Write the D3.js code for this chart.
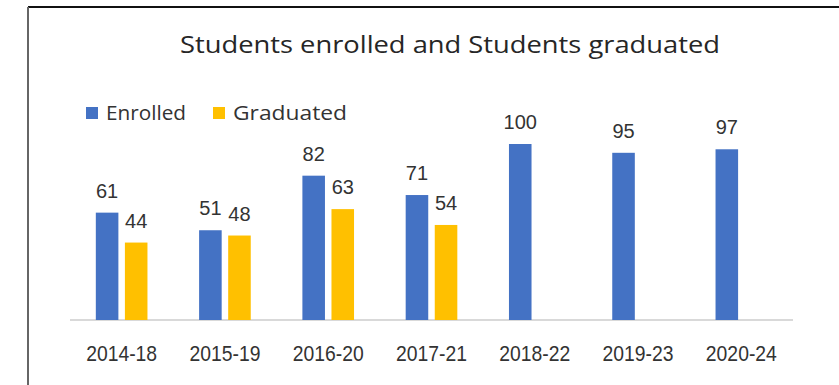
<!DOCTYPE html>
<html>
<head>
<meta charset="utf-8">
<script src="https://cdn.jsdelivr.net/npm/d3@7"></script>
<style>
  body { margin: 0; background: #fff; }
  svg { display: block; }
</style>
</head>
<body>
<svg width="839" height="385"></svg>
<script>
// chart data
var categories = ["2014-18", "2015-19", "2016-20", "2017-21", "2018-22", "2019-23", "2020-24"]
var enrolled = [61, 51, 82, 71, 100, 95, 97]
var graduated = [44, 48, 63, 54, null, null, null]
var seriesNames = ["Enrolled", "Graduated"]
var colors = ["#4472C4", "#FFC000"]

var svg = d3.select("svg"),
	width = +svg.attr("width"),
	height = +svg.attr("height")

var left = 70, right = 793, base = 320

// frame (cropped screenshot edges)
svg.append("line").attr("x1", 28).attr("x2", width).attr("y1", 7).attr("y2", 7)
	.style("stroke", "#111").style("stroke-width", 2)
svg.append("line").attr("x1", 28).attr("x2", 28).attr("y1", 7).attr("y2", height)
	.style("stroke", "#666").style("stroke-width", 2)

var x0 = d3.scaleBand().domain(categories).range([left, right]).paddingInner(0.5).paddingOuter(0.25)
var x1 = d3.scaleBand().domain(seriesNames).range([0, x0.bandwidth()]).paddingInner(0.224)
var y = d3.scaleLinear().domain([0, 100]).range([base, 144])

// title (poppins-ish width, stretched)
svg.append("text")
	.attr("x", 450).attr("y", 53)
	.attr("text-anchor", "middle")
	.attr("textLength", 540).attr("lengthAdjust", "spacingAndGlyphs")
	.style("font-family", "'Open Sans', sans-serif")
	.style("font-size", "23px")
	.style("fill", "#262626")
	.text("Students enrolled and Students graduated")

// legend
var legendW = [80, 114]
var legend = svg.selectAll("g.legend").data(seriesNames).enter().append("g")
	.attr("class", "legend")
	.attr("transform", (d, i) => "translate(" + [86, 213][i] + ",107)")
legend.append("rect").attr("width", 12).attr("height", 12).style("fill", (d, i) => colors[i])
legend.append("text")
	.attr("x", 20).attr("y", 13)
	.attr("textLength", (d, i) => legendW[i]).attr("lengthAdjust", "spacingAndGlyphs")
	.style("font-family", "'Open Sans', sans-serif")
	.style("font-size", "20px")
	.style("fill", "#333")
	.text(d => d)

// baseline
svg.append("line").attr("x1", left).attr("x2", right).attr("y1", base).attr("y2", base)
	.style("stroke", "#d9d9d9").style("stroke-width", 2)

var rows = categories.map((c, i) => ({ cat: c, vals: [
	{ name: "Enrolled", value: enrolled[i] },
	{ name: "Graduated", value: graduated[i] }
].filter(v => v.value != null) }))

var groups = svg.selectAll("g.cat").data(rows).enter().append("g")
	.attr("class", "cat")
	.attr("transform", d => "translate(" + x0(d.cat) + ",0)")

groups.selectAll("rect").data(d => d.vals).enter().append("rect")
	.attr("x", d => x1(d.name))
	.attr("y", d => y(d.value))
	.attr("width", x1.bandwidth())
	.attr("height", d => base - y(d.value))
	.style("fill", d => colors[seriesNames.indexOf(d.name)])

groups.selectAll("text").data(d => d.vals).enter().append("text")
	.attr("x", d => x1(d.name) + x1.bandwidth() / 2)
	.attr("y", d => y(d.value) - 15)
	.attr("text-anchor", "middle")
	.style("font-family", "'Liberation Sans', Arial, sans-serif")
	.style("font-size", "20px")
	.style("fill", "#333")
	.text(d => d.value)

// category axis labels
var xAxis = d3.axisBottom(x0).tickSize(0).tickPadding(0)
var ax = svg.append("g").attr("transform", "translate(0," + base + ")").call(xAxis)
ax.select(".domain").remove()
ax.selectAll("text")
	.attr("y", 41).attr("dy", null)
	.attr("textLength", 71).attr("lengthAdjust", "spacingAndGlyphs")
	.style("font-family", "'Liberation Sans', Arial, sans-serif")
	.style("font-size", "22px")
	.style("fill", "#333")
</script>
</body>
</html>
